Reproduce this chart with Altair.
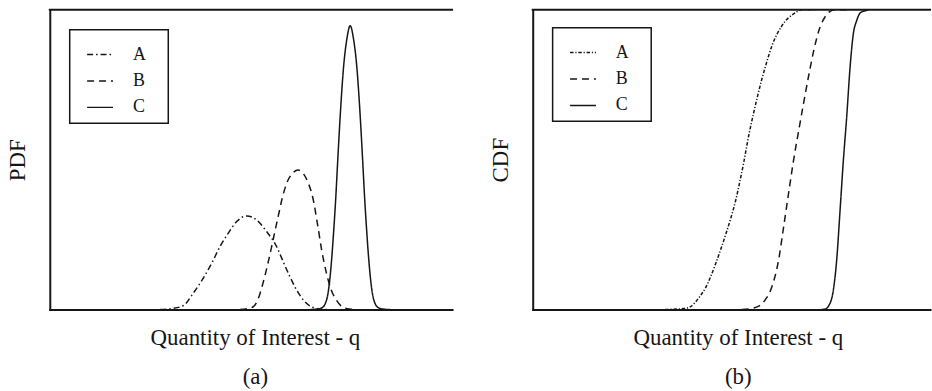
import altair as alt
import pandas as pd

FONT = "Liberation Serif"
INK = "#161616"
CURVES = ["A", "B", "C"]

# ---- panel (a): probability density of q for the three cases ----
pdf_a_q = [111, 123, 134.3, 144.3, 154.3, 162.7, 171, 179.3, 187.7, 197.7,
           207.7, 217.7, 227.7, 234.3, 241, 247.7, 254.3, 262.7, 271, 279]
pdf_a_v = [0, 1, 4, 16.7, 31.7, 46.7, 63.3, 76.7, 88.3, 94,
           90, 78.3, 63.3, 48.3, 33.3, 20, 10, 2.7, 0.5, 0]

pdf_b_q = [191, 198, 204, 209, 214, 219, 223, 226, 229.5, 233, 238, 244,
           249.5, 255, 260, 264, 269, 273, 277.5, 282.5, 287.5, 294, 301, 308]
pdf_b_v = [0, 0.8, 2.5, 10, 26, 46, 64, 78, 94, 110, 127, 137,
           140, 136, 126, 113, 85, 60, 38, 20, 10, 2.5, 0.5, 0]

pdf_c_q = [261.7, 269.7, 273.7, 276.7, 279.2, 281.2, 283.2, 285.2, 287.2,
           289.2, 291.7, 295, 298.4, 301.7, 305, 308.4, 311.7, 314.2, 316.2,
           318.2, 320.2, 322.2, 324.2, 326.7, 329.7, 333.7, 341.7]
pdf_c_v = [0, 0.5, 2, 6, 15, 30, 52, 80, 112,
           150, 195, 243, 272, 285, 272, 243, 195, 150, 112,
           80, 52, 30, 15, 6, 2, 0.5, 0]

# ---- panel (b): cumulative distribution of q ----
cdf_a_q = [133, 152, 158.7, 163, 167, 173.7, 178.7, 183.7, 188.7, 193.7,
           198.7, 203.7, 207.7, 212, 217, 222, 226, 230.3, 233.7, 240.3,
           250.3, 263.7, 270, 285]
cdf_a_v = [0, 1, 3, 7, 12, 22, 33, 46, 60, 75,
           91, 109, 127, 148, 175, 198, 215, 232, 244, 265,
           285, 298, 301, 301]

cdf_b_q = [210, 219, 227, 233.7, 240.3, 247, 252, 257, 262, 267, 272, 277,
           282, 288.7, 293.7, 298.7, 303.7, 316]
cdf_b_v = [0, 1, 3.3, 10, 23, 50, 83, 117, 150, 179, 207, 234,
           259, 284, 294, 299.5, 301, 301]

cdf_c_q = [290, 293.7, 297, 302, 305.3, 308.7, 312, 315.3, 318.7, 322,
           325.3, 329, 333.7, 337]
cdf_c_v = [0, 0.5, 3.3, 20, 50, 100, 150, 193, 243, 277,
           290, 298, 300, 301]

X_LABEL = "Quantity of Interest - q"
V_MAX = 301


def frame(series):
    rows = []
    for name, qs, vs in series:
        rows += [{"curve": name, "q": q, "v": v} for q, v in zip(qs, vs)]
    return pd.DataFrame(rows)


def panel(df, y_title, caption, width, dashes, box_top):
    lines = alt.Chart(df).mark_line(
        color=INK, strokeWidth=1.5, interpolate="monotone"
    ).encode(
        x=alt.X("q:Q",
                scale=alt.Scale(domain=[0, width], nice=False, zero=False),
                axis=alt.Axis(title=[X_LABEL, caption], titlePadding=17,
                              titleLineHeight=39, titleX=206)),
        y=alt.Y("v:Q", scale=alt.Scale(domain=[0, V_MAX], nice=False),
                axis=alt.Axis(title=y_title, titlePadding=20)),
        strokeDash=alt.StrokeDash(
            "curve:N",
            scale=alt.Scale(domain=CURVES, range=dashes),
            legend=alt.Legend(
                title=None, orient="none", legendX=20, legendY=box_top + 2.5,
                symbolType="stroke", symbolSize=676, symbolStrokeWidth=1.5,
                symbolStrokeColor=INK, symbolOffset=8,
                labelFont=FONT, labelFontSize=18, labelColor=INK,
                labelOffset=19, padding=8.5, rowPadding=3.5,
            ),
        ),
    )
    # closing line along the top of the plot box
    top = alt.Chart(pd.DataFrame({"edge": [0]})).mark_rule(
        color=INK, strokeWidth=2, strokeCap="square"
    ).encode(x=alt.value(0), x2=alt.value(width), y=alt.value(0))
    # border drawn around the key
    key_box = alt.Chart(pd.DataFrame({"edge": [0]})).mark_rect(
        fill="white", stroke=INK, strokeWidth=1.5
    ).encode(x=alt.value(20), x2=alt.value(119),
             y=alt.value(box_top), y2=alt.value(box_top + 94))
    return alt.layer(key_box, lines, top).properties(width=width, height=V_MAX)


pdf_df = frame([("A", pdf_a_q, pdf_a_v), ("B", pdf_b_q, pdf_b_v),
                ("C", pdf_c_q, pdf_c_v)])
cdf_df = frame([("A", cdf_a_q, cdf_a_v), ("B", cdf_b_q, cdf_b_v),
                ("C", cdf_c_q, cdf_c_v)])

pdf_dashes = [[6, 3, 1.5, 3], [7, 5], [1, 0]]
cdf_dashes = [[3.5, 1.8, 1.2, 1.8], [7, 5], [1, 0]]

left = panel(pdf_df, "PDF", "(a)", 404, pdf_dashes, 20)
right = panel(cdf_df, "CDF", "(b)", 399, cdf_dashes, 18)

chart = alt.hconcat(left, right, spacing=36).resolve_scale(
    strokeDash="independent"
).resolve_legend(
    strokeDash="independent"
).configure_view(
    stroke=None
).configure_axis(
    domainColor=INK, domainWidth=2, domainCap="square", ticks=False,
    labels=False, grid=False, titleFont=FONT, titleFontSize=23,
    titleFontWeight="normal", titleColor=INK,
).properties(
    padding={"left": 7, "top": 6, "right": 0, "bottom": 0},
    background="white",
)

chart.save("out.html", embed_options={"renderer": "svg", "actions": False})
